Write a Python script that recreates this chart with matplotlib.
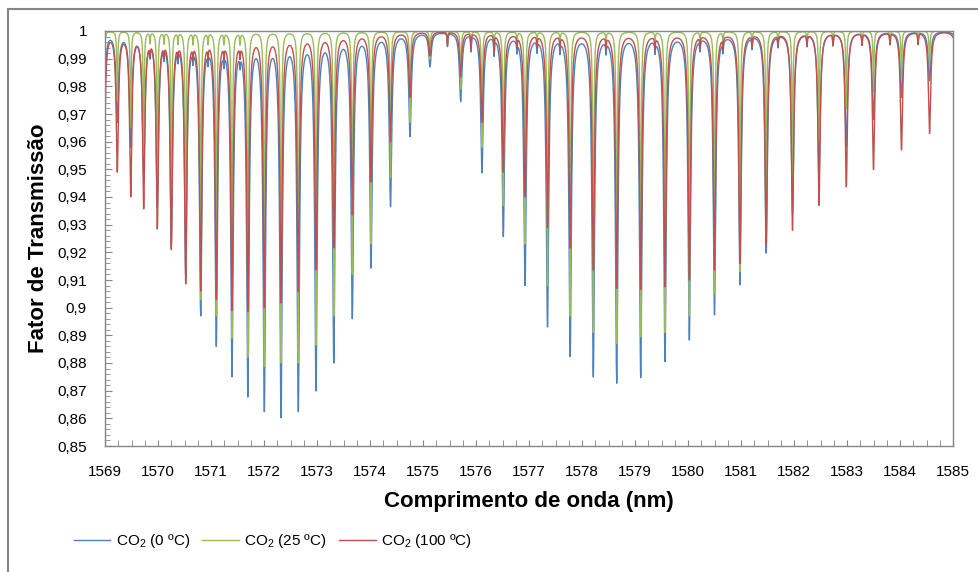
import numpy as np
import matplotlib.pyplot as plt
from matplotlib.lines import Line2D
from matplotlib.ticker import MultipleLocator, FuncFormatter

plt.rcParams['font.family'] = ['Liberation Sans', 'DejaVu Sans']
plt.rcParams['mathtext.fontset'] = 'custom'
plt.rcParams['mathtext.rm'] = 'Liberation Sans'

# line centres (nm) and transmission at the bottom of each dip
line_nm = [1568.987, 1569.232, 1569.485, 1569.730, 1569.987, 1570.251, 1570.523,
           1570.806, 1571.100, 1571.396, 1571.696, 1572.006, 1572.321, 1572.647,
           1572.981, 1573.317, 1573.666, 1574.019, 1574.387, 1574.755, 1575.132,
           1575.711, 1576.113, 1576.515, 1576.925, 1577.349, 1577.777, 1578.213,
           1578.655, 1579.108, 1579.566, 1580.025, 1580.500, 1580.981, 1581.475,
           1581.972, 1582.472, 1582.987, 1583.500, 1584.028, 1584.557, 1585.094]

t_min_0C = [0.975, 0.967, 0.958, 0.948, 0.936, 0.923, 0.911, 0.897, 0.886, 0.875,
            0.8677, 0.8624, 0.8602, 0.8624, 0.8699, 0.880, 0.896, 0.9143, 0.9365, 0.9618,
            0.987, 0.9745, 0.9487, 0.9257, 0.908, 0.893, 0.8823, 0.875, 0.8727, 0.8747,
            0.8805, 0.8883, 0.8974, 0.9083, 0.9197, 0.934, 0.947, 0.958, 0.968, 0.976,
            0.982, 0.986]

t_min_25C = [0.985, 0.975, 0.965, 0.955, 0.943, 0.932, 0.915, 0.903, 0.897, 0.889,
             0.882, 0.8787, 0.880, 0.880, 0.8865, 0.897, 0.912, 0.923, 0.947, 0.967,
             0.990, 0.979, 0.958, 0.937, 0.923, 0.908, 0.897, 0.891, 0.887, 0.8895,
             0.891, 0.897, 0.905, 0.913, 0.930, 0.945, 0.960, 0.972, 0.978, 0.983,
             0.987, 0.990]

t_min_100C = [0.958, 0.949, 0.940, 0.9357, 0.9284, 0.921, 0.9086, 0.906, 0.903, 0.899,
              0.8986, 0.900, 0.9017, 0.9058, 0.9136, 0.9216, 0.9335, 0.9454, 0.960, 0.976,
              0.991, 0.9835, 0.967, 0.949, 0.940, 0.929, 0.9215, 0.9136, 0.907, 0.9066,
              0.9076, 0.910, 0.9136, 0.916, 0.9228, 0.928, 0.937, 0.9437, 0.950, 0.957,
              0.963, 0.968]

# weak (hot band) lines seen as small notches on the arches
weak_nm = [1569.849, 1570.113, 1570.377, 1570.660, 1570.943, 1571.245, 1571.547,
           1575.462, 1575.906, 1576.340, 1576.774, 1577.151, 1577.585, 1578.453,
           1579.377, 1580.226, 1580.660, 1581.208, 1581.698, 1582.245, 1582.736,
           1583.283, 1583.811, 1584.340]
weak_depth = [0.004, 0.004, 0.004, 0.004, 0.004, 0.004, 0.004,
              0.005, 0.006, 0.006, 0.004, 0.004, 0.004, 0.004,
              0.004, 0.004, 0.004, 0.004, 0.004, 0.004, 0.004,
              0.004, 0.004, 0.004]

labels = ['CO$_\\mathregular{2}$ (0 ºC)', 'CO$_\\mathregular{2}$ (25 ºC)',
          'CO$_\\mathregular{2}$ (100 ºC)']
colors = ['#4F81BD', '#9BBB59', '#C0504D']
half_widths = [0.028, 0.010, 0.025]


def lorentz_sum(x, centres, amps, gamma):
    d = x[:, None] - centres[None, :]
    return (amps * gamma ** 2 / (d ** 2 + gamma ** 2)).sum(axis=1)


def spectrum(targets, gamma):
    c = np.array(line_nm)
    tgt = np.array(targets)
    wc = np.array(weak_nm)
    wd = np.array(weak_depth)
    amps = 1 - tgt
    # adjust line strengths so each dip bottoms out at the value
    for _ in range(40):
        model = 1 - lorentz_sum(c, c, amps, gamma) - lorentz_sum(c, wc, wd, 0.008)
        amps = amps + (model - tgt)
    x = np.arange(1569.0, 1585.0001, 0.004)
    x = np.unique(np.concatenate([x, c[(c >= 1569) & (c <= 1585)]]))
    y = 1 - lorentz_sum(x, c, amps, gamma) - lorentz_sum(x, wc, wd, 0.008)
    return x, y


fig = plt.figure(figsize=(9.79, 5.72), dpi=100)
ax = fig.add_axes([105 / 979, 1 - 446 / 572, 848 / 979, 415 / 572])

for tgt, col, lab, g in zip([t_min_0C, t_min_25C, t_min_100C], colors, labels, half_widths):
    x, y = spectrum(tgt, g)
    ax.plot(x, y, color=col, lw=1.0, label=lab)

ax.set_xlim(1569, 1585)
ax.set_ylim(0.85, 1.0)
ax.xaxis.set_major_locator(MultipleLocator(1))
ax.xaxis.set_minor_locator(MultipleLocator(0.25))
ax.yaxis.set_major_locator(MultipleLocator(0.01))
ax.yaxis.set_minor_locator(MultipleLocator(0.002))


def comma(v, pos):
    s = ('%.2f' % v).rstrip('0').rstrip('.')
    return s.replace('.', ',')


ax.yaxis.set_major_formatter(FuncFormatter(comma))
ax.tick_params(axis='both', which='both', direction='in', color='#868686', labelsize=11)
ax.tick_params(axis='y', which='major', length=5, pad=13)
ax.tick_params(axis='y', which='minor', length=3.5)
ax.tick_params(axis='x', which='both', length=4, pad=14)
for s in ax.spines.values():
    s.set_color('#868686')
    s.set_linewidth(1)

ax.set_ylabel('Fator de Transmissão', fontsize=16, fontweight='bold', labelpad=6)
ax.set_xlabel('Comprimento de onda (nm)', fontsize=16, fontweight='bold', labelpad=8)

fig.legend(loc='center left', bbox_to_anchor=(60 / 979, 1 - 541 / 572), ncol=3,
           frameon=False, fontsize=11, handlelength=2.4, handletextpad=0.35,
           columnspacing=0.8)

# chart area border
fig.add_artist(Line2D([8 / 979, 8 / 979], [0, 1 - 9 / 572], color='#868686', lw=1.5))
fig.add_artist(Line2D([8 / 979, 1], [1 - 9 / 572, 1 - 9 / 572], color='#868686', lw=1.5))

fig.savefig('out.png', dpi=100)
